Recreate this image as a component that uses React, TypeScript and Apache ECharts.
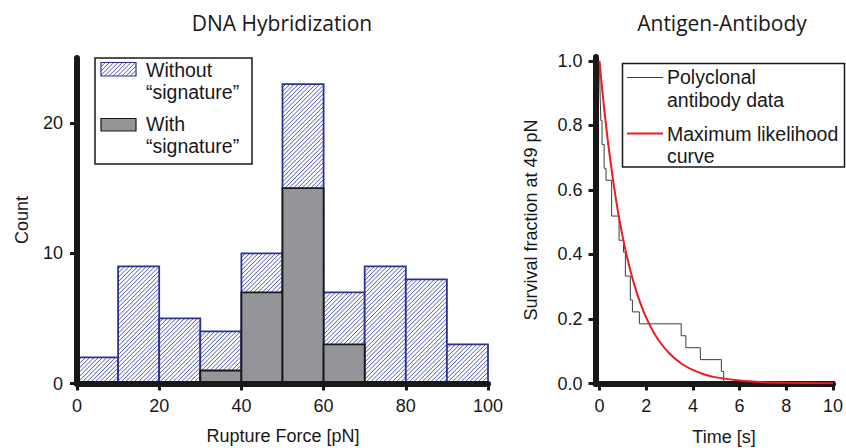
import React, { useEffect, useRef } from "react";
import * as echarts from "echarts";

// ---------- data ----------
const binStarts = [0, 10, 20, 30, 40, 50, 60, 70, 80, 90];
const binWidth = 10;
const countWithout = [2, 9, 5, 4, 10, 23, 7, 9, 8, 3];
const countWith = [0, 0, 0, 1, 7, 15, 3, 0, 0, 0];
const forceTicks = [0, 20, 40, 60, 80, 100];
const countTicks = [0, 10, 20];

const survTimes = [0, 0.03, 0.06, 0.11, 0.2, 0.28, 0.52, 0.84, 1.03, 1.11, 1.32, 1.41, 1.71, 3.5, 3.7, 4.32, 5.22, 5.32];
const survValues = [1.0, 0.889, 0.815, 0.741, 0.667, 0.63, 0.519, 0.444, 0.407, 0.333, 0.259, 0.222, 0.185, 0.148, 0.111, 0.074, 0.037, 0.0];

const fitTimes = [0, 0.1, 0.2, 0.3, 0.4, 0.5, 0.6, 0.8, 1.0, 1.2, 1.4, 1.6, 1.8, 2.0, 2.3, 2.6, 3.0, 3.5, 4.0, 4.5, 5.0, 6.0, 7.0, 8.0, 10.0];
const fitValues = [1.0, 0.924, 0.853, 0.788, 0.728, 0.673, 0.621, 0.53, 0.452, 0.386, 0.329, 0.281, 0.24, 0.205, 0.161, 0.127, 0.093, 0.062, 0.042, 0.028, 0.019, 0.009, 0.004, 0.002, 0.0004];
const timeTicks = [0, 2, 4, 6, 8, 10];
const survTicks = [0, 0.2, 0.4, 0.6, 0.8, 1.0];

// ---------- styles ----------
const INK = "#1a1718";
const HATCH = "#3c46a8";
const BLUE_EDGE = "#2e3192";
const GRAY = "#939598";
const RED = "#ed1c24";
const LINE_GRAY = "#3d3d3d";
const SANS = "'Liberation Sans', Arial, Helvetica, sans-serif";
const TITLE_FONT = "'Open Sans', 'Noto Sans', sans-serif";
const LEGEND_FONT = `19.5px ${SANS}`;

function hatch(x0: number, y0: number, x1: number, y1: number, s: number) {
  const out: any[] = [];
  const cStart = Math.ceil((x0 + y0) / s) * s;
  for (let c = cStart; c <= x1 + y1; c += s) {
    const xa = Math.max(x0, c - y1);
    const xb = Math.min(x1, c - y0);
    if (xb - xa > 0.2) out.push({ x1: xa, y1: c - xa, x2: xb, y2: c - xb });
  }
  return out;
}

function hatchedRect(x0: number, y0: number, x1: number, y1: number, edge: number, z?: number) {
  const zz = z === undefined ? {} : { z };
  const lines = hatch(x0, y0, x1, y1, 4.3).map((l) => ({
    type: "line",
    shape: l,
    style: { stroke: HATCH, lineWidth: 0.9 },
    silent: true,
    ...zz,
  }));
  return [
    { type: "rect", shape: { x: x0, y: y0, width: x1 - x0, height: y1 - y0 }, style: { fill: "#fff" }, ...zz },
    ...lines,
    {
      type: "rect",
      shape: { x: x0, y: y0, width: x1 - x0, height: y1 - y0 },
      style: { fill: "none", stroke: BLUE_EDGE, lineWidth: edge },
      ...zz,
    },
  ];
}

const AXIS_W = 6;
const axisLineOpt = { show: true, onZero: false, lineStyle: { color: INK, width: AXIS_W } };
const tickOpt = (vals: number[]) => ({
  show: true,
  length: 7,
  customValues: vals,
  lineStyle: { color: INK, width: 3 },
});

const labelStyle = { color: INK, fontFamily: SANS, fontSize: 18 };

export default function App() {
  const ref = useRef<HTMLDivElement>(null);
  useEffect(() => {
    if (!ref.current) return;
    const chart = echarts.init(ref.current, undefined, { renderer: "svg" });

    const hatchedData = binStarts.map((s, i) => [s, s + binWidth, countWithout[i]]);
    const grayData = binStarts
      .map((s, i) => [s, s + binWidth, countWith[i]])
      .filter((d) => d[2] > 0);

    const text = (x: number, y: number, t: string, extra: any = {}) => ({
      type: "text",
      x,
      y,
      style: {
        text: t,
        fill: INK,
        font: `18px ${SANS}`,
        textAlign: "left",
        textVerticalAlign: "middle",
        ...extra,
      },
    });

    const option: any = {
      animation: false,
      backgroundColor: "#fff",
      grid: [
        { left: 77, top: 58, width: 411, height: 325.5 },
        { left: 595.5, top: 57, width: 240.5, height: 326.5 },
      ],
      xAxis: [
        {
          gridIndex: 0,
          type: "value",
          min: 0,
          max: 100,
          interval: 20,
          z: 10,
          axisLine: axisLineOpt,
          splitLine: { show: false },
          axisLabel: { ...labelStyle, margin: 13, customValues: forceTicks },
          axisTick: tickOpt(forceTicks),
        },
        {
          gridIndex: 1,
          type: "value",
          min: -0.17,
          max: 10,
          axisLine: axisLineOpt,
          splitLine: { show: false },
          axisLabel: { ...labelStyle, margin: 13, customValues: timeTicks },
          axisTick: tickOpt(timeTicks),
        },
      ],
      yAxis: [
        {
          gridIndex: 0,
          type: "value",
          min: 0,
          max: 25,
          z: 10,
          axisLine: axisLineOpt,
          splitLine: { show: false },
          axisLabel: { ...labelStyle, margin: 14, customValues: countTicks },
          axisTick: tickOpt(countTicks),
        },
        {
          gridIndex: 1,
          type: "value",
          min: 0,
          max: 1.012,
          axisLine: axisLineOpt,
          splitLine: { show: false },
          axisLabel: {
            ...labelStyle,
            margin: 13,
            customValues: survTicks,
            formatter: (v: number) => v.toFixed(1),
          },
          axisTick: tickOpt(survTicks),
        },
      ],
      series: [
        {
          type: "custom",
          name: "Without signature",
          xAxisIndex: 0,
          yAxisIndex: 0,
          z: 2,
          data: hatchedData,
          encode: { x: [0, 1], y: 2 },
          renderItem: (_p: any, api: any) => {
            const a = api.coord([api.value(0), api.value(2)]);
            const b = api.coord([api.value(1), 0]);
            return { type: "group", children: hatchedRect(a[0], a[1], b[0], b[1], 1.8) };
          },
        },
        {
          type: "custom",
          name: "With signature",
          xAxisIndex: 0,
          yAxisIndex: 0,
          z: 3,
          data: grayData,
          encode: { x: [0, 1], y: 2 },
          renderItem: (_p: any, api: any) => {
            const a = api.coord([api.value(0), api.value(2)]);
            const b = api.coord([api.value(1), 0]);
            return {
              type: "rect",
              shape: { x: a[0], y: a[1], width: b[0] - a[0], height: b[1] - a[1] },
              style: { fill: GRAY, stroke: INK, lineWidth: 1.8 },
            };
          },
        },
        {
          type: "line",
          name: "Polyclonal antibody data",
          xAxisIndex: 1,
          yAxisIndex: 1,
          step: "end",
          showSymbol: false,
          symbol: "none",
          data: survTimes.map((t, i) => [t, survValues[i]]),
          lineStyle: { color: LINE_GRAY, width: 1 },
          z: 3,
        },
        {
          type: "line",
          name: "Maximum likelihood curve",
          xAxisIndex: 1,
          yAxisIndex: 1,
          smooth: 0.3,
          showSymbol: false,
          symbol: "none",
          data: fitTimes.map((t, i) => [t, fitValues[i]]),
          lineStyle: { color: RED, width: 2 },
          z: 4,
        },
      ],
      graphic: [
        text(282, 23, "DNA Hybridization", { font: `21px ${TITLE_FONT}`, textAlign: "center" }),
        text(722, 23, "Antigen-Antibody", { font: `21px ${TITLE_FONT}`, textAlign: "center" }),
        text(283, 436, "Rupture Force [pN]", { textAlign: "center" }),
        text(724, 437, "Time [s]", { textAlign: "center" }),
        {
          type: "text",
          x: 22,
          y: 220,
          rotation: Math.PI / 2,
          style: { text: "Count", fill: INK, font: `18px ${SANS}`, textAlign: "center", textVerticalAlign: "middle" },
        },
        {
          type: "text",
          x: 531,
          y: 220,
          rotation: Math.PI / 2,
          style: {
            text: "Survival fraction at 49 pN",
            fill: INK,
            font: `18px ${SANS}`,
            textAlign: "center",
            textVerticalAlign: "middle",
          },
        },
        {
          type: "rect",
          z: 20,
          shape: { x: 95, y: 58, width: 157, height: 106 },
          style: { fill: "#fff", stroke: INK, lineWidth: 1.5 },
        },
        { type: "group", z: 22, children: hatchedRect(101, 62.5, 136, 76, 1.2, 22) },
        {
          type: "rect",
          z: 22,
          shape: { x: 101, y: 118.5, width: 35, height: 12.5 },
          style: { fill: GRAY, stroke: INK, lineWidth: 1.2 },
        },
        { ...text(146, 70, "Without", { font: LEGEND_FONT }), z: 22 },
        { ...text(146, 92, "\u201csignature\u201d", { font: LEGEND_FONT }), z: 22 },
        { ...text(146, 124, "With", { font: LEGEND_FONT }), z: 22 },
        { ...text(146, 146, "\u201csignature\u201d", { font: LEGEND_FONT }), z: 22 },
        {
          type: "rect",
          z: 20,
          shape: { x: 622.5, y: 63.5, width: 222, height: 103.5 },
          style: { fill: "#fff", stroke: INK, lineWidth: 1.5 },
        },
        {
          type: "line",
          z: 22,
          shape: { x1: 627, y1: 77.5, x2: 663, y2: 77.5 },
          style: { stroke: LINE_GRAY, lineWidth: 1 },
        },
        {
          type: "line",
          z: 22,
          shape: { x1: 627, y1: 133.5, x2: 663, y2: 133.5 },
          style: { stroke: RED, lineWidth: 2 },
        },
        { ...text(667, 77, "Polyclonal", { font: LEGEND_FONT }), z: 22 },
        { ...text(667, 100, "antibody data", { font: LEGEND_FONT }), z: 22 },
        { ...text(667, 133.5, "Maximum likelihood", { font: LEGEND_FONT }), z: 22 },
        { ...text(667, 155.5, "curve", { font: LEGEND_FONT }), z: 22 },
      ],
    };

    chart.setOption(option);
    return () => chart.dispose();
  }, []);

  return (
    <div
      ref={ref}
      style={{ position: "fixed", left: 0, top: 0, width: 846, height: 448, background: "#fff" }}
    />
  );
}
